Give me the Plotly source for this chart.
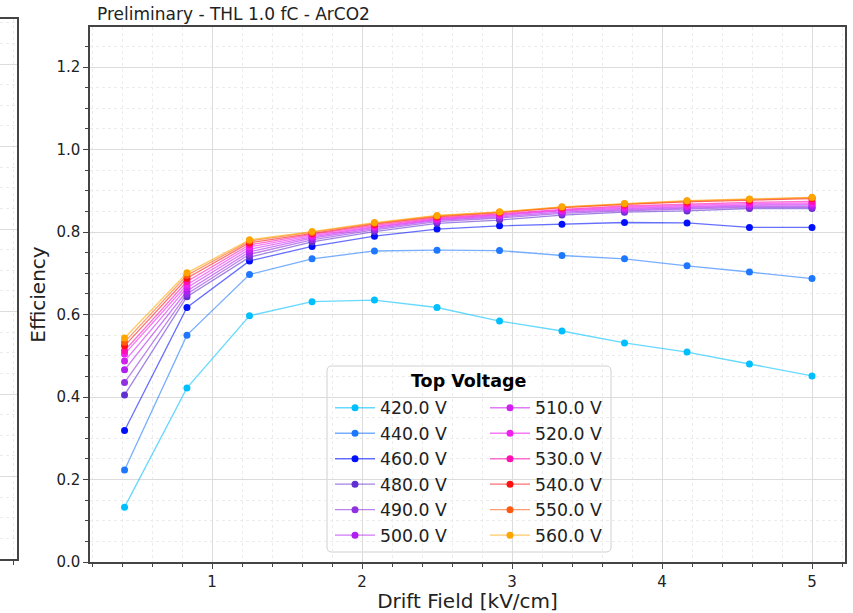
import plotly.graph_objects as go

# Drift field settings (kV/cm)
drift_field = [0.417, 0.833, 1.25, 1.667, 2.083, 2.5, 2.917, 3.333, 3.75, 4.167, 4.583, 5.0]

# Top voltage settings and their legend labels
top_voltages = [420, 440, 460, 480, 490, 500, 510, 520, 530, 540, 550, 560]

# Measured efficiency per top voltage
eff_420 = [0.133, 0.422, 0.597, 0.631, 0.635, 0.617, 0.584, 0.560, 0.531, 0.509, 0.480, 0.451]
eff_440 = [0.223, 0.550, 0.697, 0.735, 0.754, 0.756, 0.755, 0.743, 0.735, 0.718, 0.703, 0.687]
eff_460 = [0.319, 0.617, 0.730, 0.765, 0.790, 0.807, 0.815, 0.819, 0.823, 0.822, 0.811, 0.811]
eff_480 = [0.405, 0.643, 0.739, 0.776, 0.801, 0.821, 0.829, 0.841, 0.848, 0.851, 0.857, 0.857]
eff_490 = [0.435, 0.650, 0.746, 0.781, 0.805, 0.825, 0.834, 0.845, 0.851, 0.855, 0.860, 0.860]
eff_500 = [0.466, 0.657, 0.752, 0.785, 0.808, 0.828, 0.837, 0.848, 0.854, 0.858, 0.863, 0.863]
eff_510 = [0.487, 0.665, 0.758, 0.788, 0.811, 0.830, 0.840, 0.851, 0.857, 0.862, 0.866, 0.867]
eff_520 = [0.504, 0.672, 0.764, 0.791, 0.813, 0.832, 0.842, 0.853, 0.860, 0.865, 0.869, 0.870]
eff_530 = [0.512, 0.680, 0.769, 0.794, 0.816, 0.834, 0.844, 0.855, 0.863, 0.868, 0.872, 0.874]
eff_540 = [0.524, 0.688, 0.774, 0.797, 0.819, 0.837, 0.847, 0.859, 0.867, 0.873, 0.877, 0.881]
eff_550 = [0.533, 0.695, 0.778, 0.799, 0.821, 0.839, 0.848, 0.860, 0.868, 0.875, 0.879, 0.883]
eff_560 = [0.543, 0.701, 0.781, 0.801, 0.823, 0.840, 0.849, 0.861, 0.869, 0.876, 0.880, 0.884]

efficiencies = [eff_420, eff_440, eff_460, eff_480, eff_490, eff_500,
                eff_510, eff_520, eff_530, eff_540, eff_550, eff_560]

colors = [(0, 191, 255), (30, 120, 255), (0, 16, 255), (96, 48, 208),
          (144, 48, 224), (176, 32, 240), (208, 32, 240), (240, 32, 240),
          (255, 16, 176), (255, 16, 16), (255, 90, 16), (255, 165, 0)]

FONT = "DejaVu Sans"
TXT = "#222222"
W, H = 853, 613
L, R, T, B = 0, 8, 19, 51
PW, PH = W - L - R, H - T - B


def px_x(p):
    return (p - L) / PW


def px_y(p):
    return 1 - (p - T) / PH


fig = go.Figure()

n_left = 6
for i, (v, eff, c) in enumerate(zip(top_voltages, efficiencies, colors)):
    fig.add_trace(go.Scatter(
        x=drift_field, y=eff, mode="lines+markers",
        name=f"{v:.1f} V",
        legend="legend" if i < n_left else "legend2",
        line=dict(color=f"rgba({c[0]},{c[1]},{c[2]},0.6)", width=1.3),
        marker=dict(color=f"rgb({c[0]},{c[1]},{c[2]})", size=7),
        xaxis="x", yaxis="y",
    ))

# neighbouring panel peeking in at the left edge
fig.add_trace(go.Scatter(x=[None], y=[None], xaxis="x2", yaxis="y2",
                         showlegend=False, hoverinfo="skip"))

axis_common = dict(
    showline=True, linecolor="#444444", linewidth=1.5, mirror=True,
    ticks="outside", ticklen=5, tickwidth=1.2, tickcolor="#444444",
    showgrid=True, gridcolor="#dcdcdc", gridwidth=1, zeroline=False,
    tickfont=dict(family=FONT, size=15, color=TXT),
)

legend_common = dict(
    orientation="v", yanchor="top", xanchor="left",
    bgcolor="rgba(0,0,0,0)", borderwidth=0,
    font=dict(family=FONT, size=17.3, color=TXT),
    itemwidth=40, tracegroupgap=0,
)

# rounded legend frame
x0, x1, y0, y1, rr = 327, 611, 366, 552, 5
frame = (
    f"M {px_x(x0 + rr)},{px_y(y0)} L {px_x(x1 - rr)},{px_y(y0)} "
    f"Q {px_x(x1)},{px_y(y0)} {px_x(x1)},{px_y(y0 + rr)} "
    f"L {px_x(x1)},{px_y(y1 - rr)} Q {px_x(x1)},{px_y(y1)} {px_x(x1 - rr)},{px_y(y1)} "
    f"L {px_x(x0 + rr)},{px_y(y1)} Q {px_x(x0)},{px_y(y1)} {px_x(x0)},{px_y(y1 - rr)} "
    f"L {px_x(x0)},{px_y(y0 + rr)} Q {px_x(x0)},{px_y(y0)} {px_x(x0 + rr)},{px_y(y0)} Z"
)

fig.update_layout(
    width=W, height=H,
    margin=dict(l=L, r=R, t=T, b=B, autoexpand=False),
    paper_bgcolor="white", plot_bgcolor="white",
    font=dict(family=FONT, color=TXT),
    title=dict(text="Preliminary - THL 1.0 fC - ArCO2",
               font=dict(family=FONT, size=17, color=TXT),
               xref="container", yref="container",
               x=97 / W, xanchor="left", y=1 - 14 / H, yanchor="middle"),
    xaxis=dict(
        domain=[px_x(90), 1], range=[0.1867, 5.22],
        tickvals=[1, 2, 3, 4, 5],
        minor=dict(dtick=0.2, tick0=0, ticklen=3, tickcolor="#444444",
                   ticks="outside", showgrid=True, gridcolor="#ececec",
                   griddash="dot"),
        title=dict(text="Drift Field [kV/cm]",
                   font=dict(family=FONT, size=20, color=TXT), standoff=8),
        **axis_common,
    ),
    yaxis=dict(
        domain=[0, px_y(27)], range=[0, 1.297],
        tickvals=[0.0, 0.2, 0.4, 0.6, 0.8, 1.0, 1.2],
        ticktext=["0.0", "0.2", "0.4", "0.6", "0.8", "1.0", "1.2"],
        minor=dict(dtick=0.05, tick0=0, ticklen=3, tickcolor="#444444",
                   ticks="outside", showgrid=True, gridcolor="#ececec",
                   griddash="dot"),
        title=dict(text="Efficiency",
                   font=dict(family=FONT, size=20, color=TXT), standoff=5),
        **axis_common,
    ),
    xaxis2=dict(
        domain=[0, px_x(17)], range=[0, 1], anchor="y2",
        tickvals=[0.765], showticklabels=False,
        showline=True, linecolor="#444444", linewidth=1.5, mirror=True,
        ticks="outside", ticklen=4, tickcolor="#444444",
        showgrid=True, gridcolor="#ececec", griddash="dot", zeroline=False,
    ),
    yaxis2=dict(
        domain=[px_y(559), 1], range=[0, 540 / 412.5], anchor="x2",
        tickvals=[0.2 * k for k in range(7)], showticklabels=False, ticks="",
        minor=dict(dtick=0.05, tick0=0, showgrid=True, gridcolor="#ececec",
                   griddash="dot"),
        showline=True, linecolor="#444444", linewidth=1.5, mirror=True,
        showgrid=True, gridcolor="#dcdcdc", zeroline=False,
    ),
    legend=dict(x=px_x(330), y=px_y(390), **legend_common),
    legend2=dict(x=px_x(485), y=px_y(390), **legend_common),
    shapes=[dict(type="path", path=frame, xref="paper", yref="paper",
                 line=dict(color="#d0d0d0", width=1),
                 fillcolor="rgba(255,255,255,0.85)", layer="between")],
    annotations=[dict(text="<b>Top Voltage</b>", xref="paper", yref="paper",
                      x=px_x(469), y=px_y(381), xanchor="center", yanchor="middle",
                      showarrow=False,
                      font=dict(family=FONT, size=17.5, color="#000000"))],
    showlegend=True,
)

fig.write_html("out.html")
